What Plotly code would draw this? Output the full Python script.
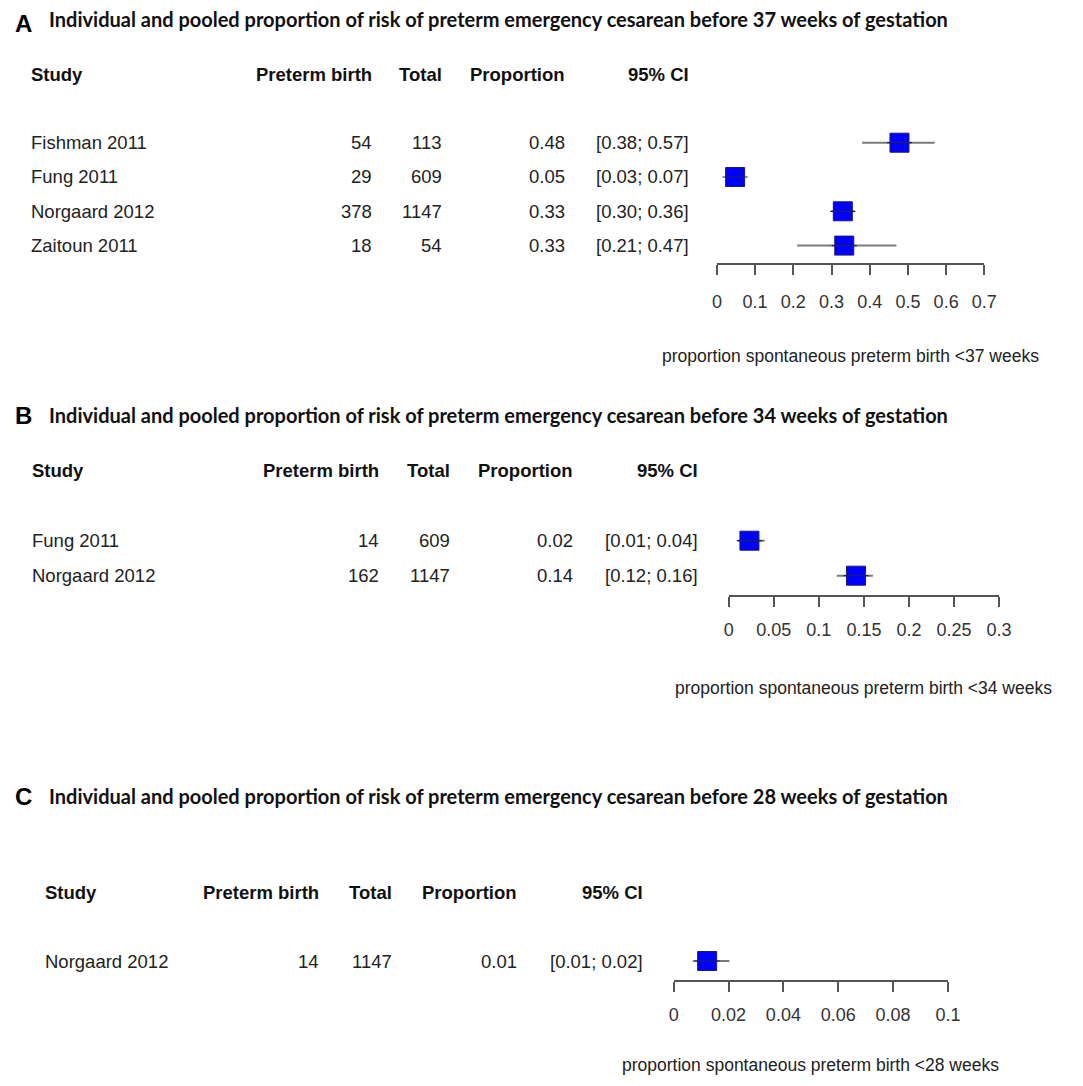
import plotly.graph_objects as go

W, H = 1083, 1086
OFF = 8                      # page margin the browser puts around the plot
FW, FH = W - 2 * OFF, H - 2 * OFF

# ---- data ----
studies_a = ['Fishman 2011', 'Fung 2011', 'Norgaard 2012', 'Zaitoun 2011']
events_a = [54, 29, 378, 18]
totals_a = [113, 609, 1147, 54]
lower_a = [0.38, 0.03, 0.30, 0.21]
upper_a = [0.57, 0.07, 0.36, 0.47]
ticks_a = [0, 0.1, 0.2, 0.3, 0.4, 0.5, 0.6, 0.7]

studies_b = ['Fung 2011', 'Norgaard 2012']
events_b = [14, 162]
totals_b = [609, 1147]
lower_b = [0.01, 0.12]
upper_b = [0.04, 0.16]
ticks_b = [0, 0.05, 0.1, 0.15, 0.2, 0.25, 0.3]

studies_c = ['Norgaard 2012']
events_c = [14]
totals_c = [1147]
lower_c = [0.007]
upper_c = [0.0203]
ticks_c = [0, 0.02, 0.04, 0.06, 0.08, 0.1]

weeks = ['37', '34', '28']
letters = ['A', 'B', 'C']
headers = ['Study', 'Preterm birth', 'Total', 'Proportion', '95% CI']


def fx(px):
    return (px - OFF) / FW


def fy(py):
    return 1 - (py - OFF) / FH


# ---- layout of each panel, in pixels of the 1083x1086 page ----
panels = [
    dict(studies=studies_a, events=events_a, totals=totals_a, lower=lower_a, upper=upper_a,
         ticks=ticks_a, title_y=19, letter_y=24, row0=142.7, step=34.3, axis_y=263.3, x0=724, x1=996,
         left=24, rights=[375, 446, 571, 698], xtitle_y=356, standoff=11),
    dict(studies=studies_b, events=events_b, totals=totals_b, lower=lower_b, upper=upper_b,
         ticks=ticks_b, title_y=415, letter_y=415, row0=540.7, step=35, axis_y=595, x0=736, x1=1011,
         left=25, rights=[382, 455, 580, 707], xtitle_y=688, standoff=8),
    dict(studies=studies_c, events=events_c, totals=totals_c, lower=lower_c, upper=upper_c,
         ticks=ticks_c, title_y=796, letter_y=796, row0=961, step=34.5, axis_y=980, x0=680, x1=959,
         left=39, rights=[321, 396, 523, 651], xtitle_y=1065, standoff=8),
]

SANS = 'Liberation Sans, Arial, sans-serif'
TXT = dict(family=SANS, size=18.5, color='#222222')
HDR = dict(family=SANS, size=18.5, color='#111111')

fig = go.Figure()
annotations = []

for i, p in enumerate(panels):
    n = len(p['studies'])
    sfx = '' if i == 0 else str(i + 1)
    rows = list(range(1, n + 1))
    props = [e / t for e, t in zip(p['events'], p['totals'])]

    # CI lines + boxes
    fig.add_trace(go.Scatter(
        x=props, y=rows, mode='markers',
        xaxis='x' + sfx, yaxis='y' + sfx,
        marker=dict(symbol='square', size=19, color='#0000ff',
                    line=dict(color='#1a1a6e', width=1)),
        error_x=dict(type='data', symmetric=False,
                     array=[u - v for u, v in zip(p['upper'], props)],
                     arrayminus=[v - l for v, l in zip(props, p['lower'])],
                     color='#7a7a7a', thickness=2, width=0),
        hoverinfo='skip', showlegend=False,
    ))
    fig.add_trace(go.Scatter(
        x=props, y=rows, mode='markers',
        xaxis='x' + sfx, yaxis='y' + sfx,
        marker=dict(symbol='line-ew', size=18, line=dict(color='#20205a', width=1.2)),
        hoverinfo='skip', showlegend=False,
    ))

    y_bot = 1 + (p['axis_y'] - p['row0']) / p['step']
    top_px = p['row0'] - 2 * p['step']
    fig.update_layout({
        'xaxis' + sfx: dict(
            domain=[fx(p['x0']), fx(p['x1'])], range=[0, p['ticks'][-1]],
            anchor='y' + sfx, showline=True, linecolor='#555555', linewidth=1.5,
            ticks='outside', ticklen=10, tickcolor='#555555', tickwidth=1.5,
            tickvals=p['ticks'], ticktext=[f'{t:g}' for t in p['ticks']],
            ticklabelstandoff=p['standoff'],
            tickfont=dict(family=SANS, size=18, color='#333333'),
            showgrid=False, zeroline=False, fixedrange=True,
        ),
        'yaxis' + sfx: dict(
            domain=[fy(p['axis_y']), fy(top_px)], range=[y_bot, -1],
            anchor='x' + sfx, visible=False, fixedrange=True,
        ),
    })

    # panel letter + title
    annotations.append(dict(x=fx(9), y=fy(p['letter_y']), xref='paper', yref='paper',
                            text='<b>' + letters[i] + '</b>', showarrow=False,
                            xanchor='left', yanchor='middle', borderpad=0,
                            font=dict(family=SANS, size=24, color='#000000')))
    annotations.append(dict(x=fx(43), y=fy(p['title_y']), xref='paper', yref='paper',
                            text='<b>Individual and pooled proportion of risk of preterm emergency cesarean before '
                                 + weeks[i] + ' weeks of gestation</b>',
                            showarrow=False, xanchor='left', yanchor='middle',
                            font=dict(family='Lato, Open Sans, sans-serif', size=20, color='#111111')))

    # table header
    yr = 'y' + sfx
    annotations.append(dict(x=fx(p['left']), y=-1, xref='paper', yref=yr, text='<b>' + headers[0] + '</b>',
                            showarrow=False, xanchor='left', yanchor='middle', font=HDR))
    for h, r in zip(headers[1:], p['rights']):
        annotations.append(dict(x=fx(r), y=-1, xref='paper', yref=yr, text='<b>' + h + '</b>',
                                showarrow=False, xanchor='right', yanchor='middle', font=HDR))

    # table rows
    for k in range(n):
        cells = [str(p['events'][k]), str(p['totals'][k]), f'{props[k]:.2f}',
                 f"[{p['lower'][k]:.2f}; {p['upper'][k]:.2f}]"]
        annotations.append(dict(x=fx(p['left']), y=rows[k], xref='paper', yref=yr, text=p['studies'][k],
                                showarrow=False, xanchor='left', yanchor='middle', font=TXT))
        for c, r in zip(cells, p['rights']):
            annotations.append(dict(x=fx(r), y=rows[k], xref='paper', yref=yr, text=c,
                                    showarrow=False, xanchor='right', yanchor='middle', font=TXT))

    # x axis title
    annotations.append(dict(x=fx((p['x0'] + p['x1']) / 2), y=fy(p['xtitle_y']),
                            xref='paper', yref='paper',
                            text='proportion spontaneous preterm birth &lt;' + weeks[i] + ' weeks',
                            showarrow=False, xanchor='center', yanchor='middle',
                            font=dict(family=SANS, size=17.5, color='#222222')))

fig.update_layout(
    width=FW, height=FH,
    margin=dict(l=0, r=0, t=0, b=0),
    paper_bgcolor='white', plot_bgcolor='white',
    annotations=annotations,
    showlegend=False,
)

fig.write_html('out.html')
